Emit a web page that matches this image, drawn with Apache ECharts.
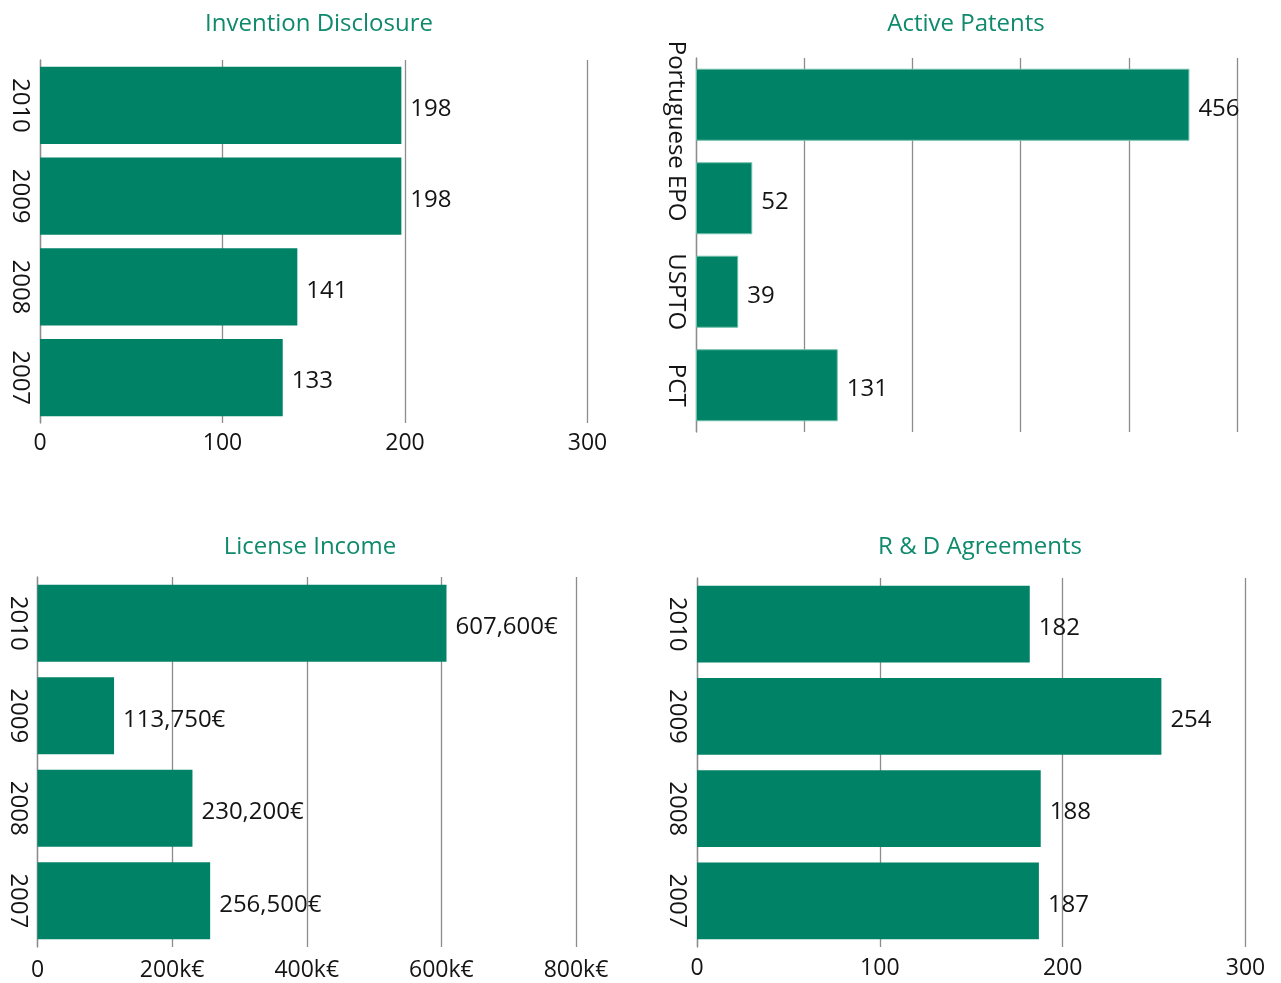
<!DOCTYPE html>
<html>
<head>
<meta charset="utf-8">
<script src="https://cdn.jsdelivr.net/npm/echarts@6/dist/echarts.min.js"></script>
<style>
  html, body { margin: 0; padding: 0; background: #ffffff; }
  #chart { width: 1281px; height: 983px; }
</style>
</head>
<body>
<div id="chart"></div>
<script>
// ---- Data ----
const titles = ['Invention Disclosure', 'Active Patents', 'License Income', 'R & D Agreements'];
const years = ['2010', '2009', '2008', '2007'];
const patentOffices = ['Portuguese', 'EPO', 'USPTO', 'PCT'];
const inventionDisclosure = [198, 198, 141, 133];
const activePatents = [456, 52, 39, 131];
const licenseIncome = [607600, 113750, 230200, 256500];
const rdAgreements = [182, 254, 188, 187];
const ticksCount = [0, 100, 200, 300];
const ticksPatents = [0, 100, 200, 300, 400, 500];
const ticksIncome = [0, 200000, 400000, 600000, 800000];

// ---- Style ----
const FONT = 'Open Sans';
const BAR = '#008267';
const TITLE_C = '#0f8a6c';
const GRID_C = '#8c8c8c';
const TEXT_C = '#141414';

const grids = [
  { left: 40, top: 60, width: 547.5, height: 363 },
  { left: 696, top: 58, width: 541, height: 374 },
  { left: 37.5, top: 577, width: 538.5, height: 370 },
  { left: 697, top: 578, width: 548.5, height: 369 }
];
const titleCenters = [314, 961, 305, 975];
const titleTops = [7, 7, 530, 530];

const cats = [years, patentOffices, years, years];
const values = [inventionDisclosure, activePatents, licenseIncome, rdAgreements];
const ticks = [ticksCount, ticksPatents, ticksIncome, ticksCount];
const gaps = ['15%', '23%', '16.5%', '17%'];
const tickMargins = [9, 0, 12, 10];

function fmtIncome(v) {
  return Math.round(v).toLocaleString('en-US') + '€';
}
function fmtTick(i, v) {
  if (i === 2) return v === 0 ? '0' : (v / 1000) + 'k€';
  return String(v);
}

const option = {
  backgroundColor: '#ffffff',
  animation: false,
  textStyle: { fontFamily: FONT },
  title: titles.map((t, i) => ({
    text: t,
    left: titleCenters[i],
    top: titleTops[i],
    textAlign: 'center',
    textStyle: { fontFamily: FONT, fontSize: 24, fontWeight: 'normal', color: TITLE_C }
  })),
  grid: grids.map(g => Object.assign({ containLabel: false }, g)),
  xAxis: values.map((v, i) => ({
    type: 'value',
    gridIndex: i,
    min: 0,
    max: ticks[i][ticks[i].length - 1],
    interval: ticks[i][1] - ticks[i][0],
    axisLine: { show: false },
    axisTick: { show: false },
    splitLine: { show: true, lineStyle: { color: GRID_C, width: 1.3 } },
    axisLabel: {
      show: i !== 1,
      margin: tickMargins[i],
      fontFamily: FONT,
      fontSize: 23,
      color: TEXT_C,
      formatter: (val) => fmtTick(i, val)
    }
  })),
  yAxis: cats.map((c, i) => ({
    type: 'category',
    gridIndex: i,
    data: c,
    inverse: true,
    axisLine: { show: true, lineStyle: { color: GRID_C, width: 1.3 } },
    axisTick: { show: false },
    axisLabel: {
      interval: 0,
      hideOverlap: false,
      rotate: -90,
      margin: 8,
      fontFamily: FONT,
      fontSize: 24,
      color: TEXT_C
    }
  })),
  series: values.map((v, i) => ({
    type: 'bar',
    xAxisIndex: i,
    yAxisIndex: i,
    data: v,
    barCategoryGap: gaps[i],
    itemStyle: i === 1
      ? { color: BAR, borderColor: '#6fbfa8', borderWidth: 1 }
      : { color: BAR },
    label: {
      show: true,
      position: 'right',
      distance: 9,
      offset: [0, 4],
      fontFamily: FONT,
      fontSize: 24,
      color: TEXT_C,
      formatter: (p) => i === 2 ? fmtIncome(p.value) : String(p.value)
    }
  }))
};

const chart = echarts.init(document.getElementById('chart'), null, { renderer: 'canvas' });
chart.setOption(option);
</script>
</body>
</html>
